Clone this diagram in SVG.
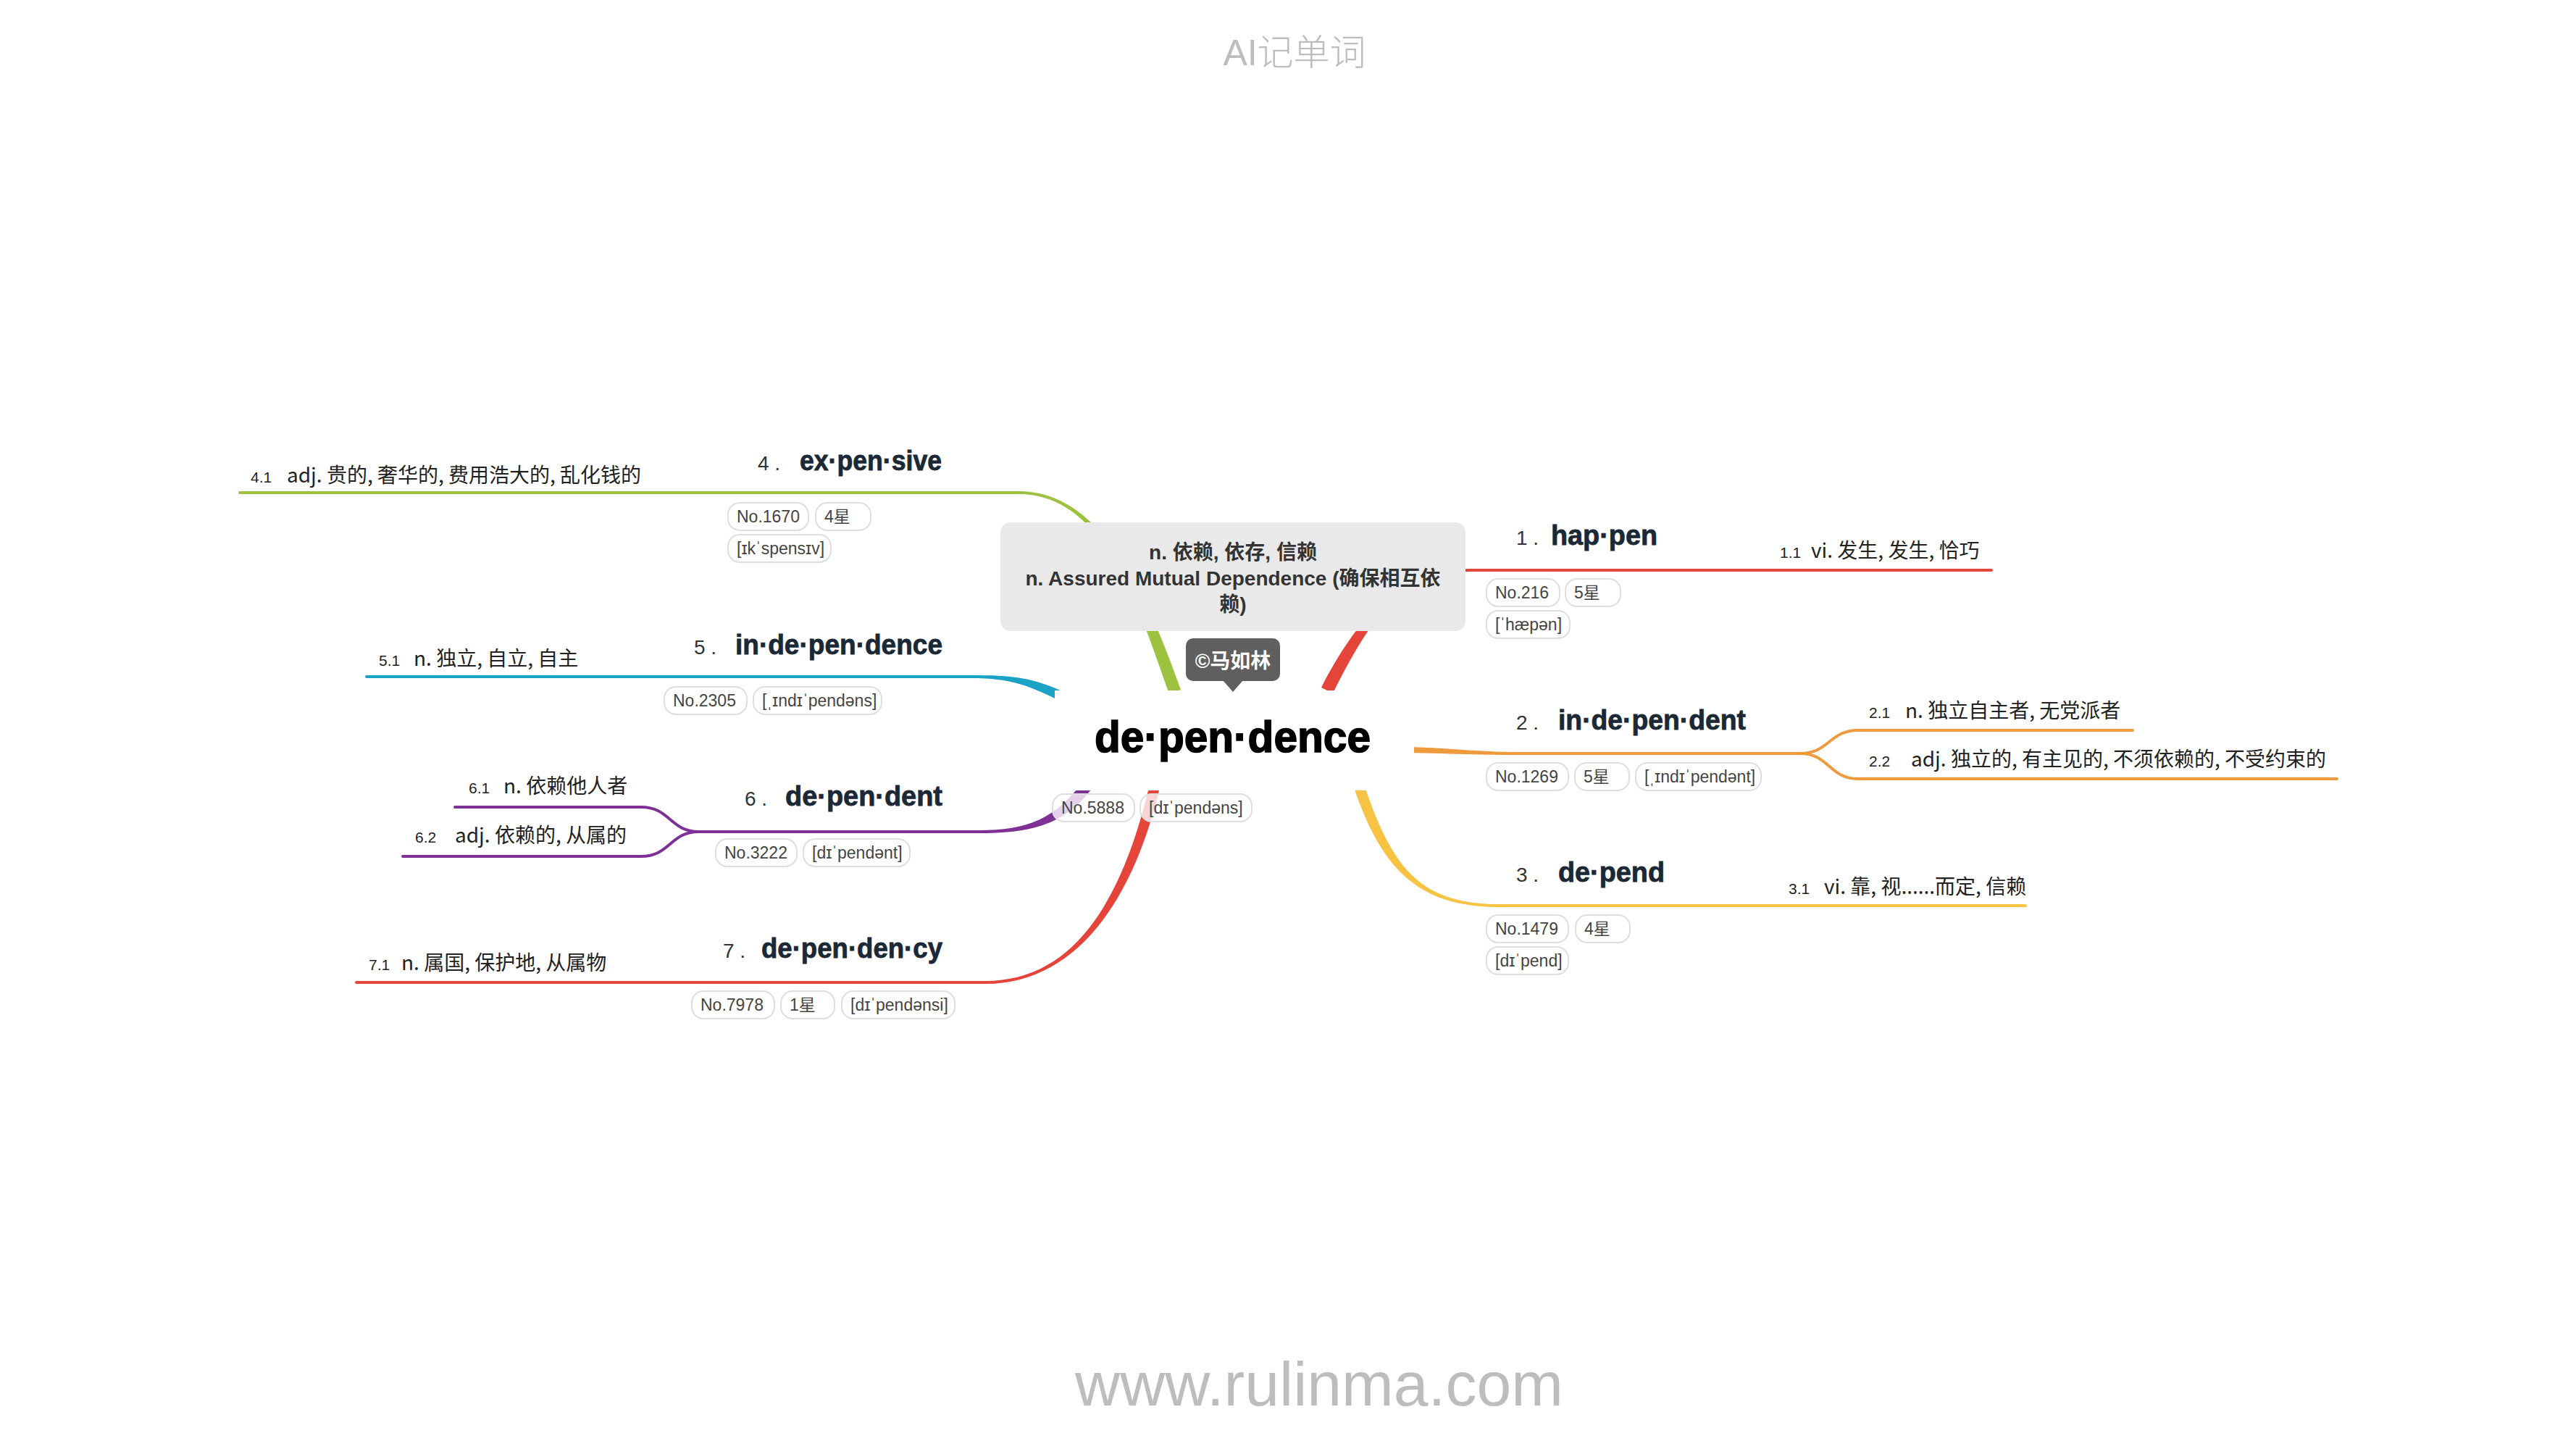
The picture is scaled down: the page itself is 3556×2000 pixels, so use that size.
<svg xmlns="http://www.w3.org/2000/svg" width="3556" height="2000" viewBox="0 0 3556 2000">
<style>
.bg{fill:#ffffff}
.title{font-family:"Liberation Sans","Noto Sans CJK SC",sans-serif;font-weight:bold;font-size:38px;fill:#1b2836;stroke:#1b2836;stroke-width:0.8}
.num{font-family:"Liberation Sans",sans-serif;font-size:28px;fill:#333}
.sub{font-family:"Noto Sans CJK SC",sans-serif;font-size:28px;fill:#222}
.subn{font-family:"Liberation Sans",sans-serif;font-size:21px;fill:#222}
.pill{fill:#ffffff;fill-opacity:0.78;stroke:#dedede;stroke-width:2}
.pt{font-family:"Liberation Sans","DejaVu Sans","Noto Sans CJK SC",sans-serif;font-size:23px;fill:#444}
.ln{fill:none;stroke-width:4;stroke-linecap:round}
.note{font-family:"Liberation Sans","Noto Sans CJK SC",sans-serif;font-weight:bold;font-size:28px;fill:#333;text-anchor:middle}
.wm{font-family:"Liberation Sans","Noto Sans CJK SC",sans-serif;fill:#bdbdbd;text-anchor:middle}
</style>
<rect class="bg" x="0" y="0" width="3556" height="2000"/>
<text class="wm" x="1787" y="90" font-size="50" font-weight="300" font-family="'Noto Sans CJK SC',sans-serif">AI记单词</text>
<text class="wm" x="1821" y="1940" font-size="86">www.rulinma.com</text>

<g id="connectors">
  <!-- 4 green -->
  <path fill="#9cc23f" d="M1630,952 C1582,817 1520,678 1406,678 L1406,682 C1520,682 1567,823 1614,958 Z"/>
  <path class="ln" stroke="#9cc23f" d="M1406,680 L331,680"/>
  <!-- 1 red -->
  <path fill="#e5443a" d="M1840,957 C1887,864 1930,789 2030,789 L2030,785 C1930,785 1872,856 1824,949 Z"/>
  <path class="ln" stroke="#e0483e" d="M2030,787 L2749,787"/>
  <!-- 5 cyan -->
  <path fill="#1ba3c6" d="M1478,960 C1428,934 1395,932 1340,932 L1340,936 C1395,936 1422,946 1472,972 Z"/>
  <path class="ln" stroke="#1ba3c6" d="M1340,934 L506,934"/>
  <!-- 6 purple -->
  <path fill="#7d3195" d="M1494,1080 C1456,1130 1420,1146 1350,1146 L1350,1150 C1420,1150 1468,1140 1506,1090 Z"/>
  <path class="ln" stroke="#7d3195" d="M1350,1148 L965,1148"/>
  <path class="ln" stroke="#7d3195" d="M965,1148 C925,1148 925,1114 885,1114 L628,1114"/>
  <path class="ln" stroke="#7d3195" d="M965,1148 C925,1148 925,1182 885,1182 L556,1182"/>
  <!-- 7 red -->
  <path fill="#e5443a" d="M1587,1083 C1548,1248 1480,1354 1360,1354 L1360,1358 C1480,1358 1562,1252 1601,1087 Z"/>
  <path class="ln" stroke="#e0483e" d="M1360,1356 L492,1356"/>
  <!-- 3 yellow -->
  <path fill="#f6c342" d="M1869,1087 C1908,1202 1960,1252 2070,1252 L2070,1248 C1960,1248 1922,1198 1883,1083 Z"/>
  <path class="ln" stroke="#f6c342" d="M2070,1250 L2796,1250"/>
  <!-- 2 orange -->
  <path fill="#f09a3e" d="M1940,1031 C2000,1032 2040,1038 2090,1038 L2090,1042 C2040,1042 2000,1040 1940,1039 Z"/>
  <path class="ln" stroke="#f09a3e" d="M2090,1040 L2485,1040"/>
  <path class="ln" stroke="#f09a3e" d="M2485,1040 C2525,1040 2525,1008 2565,1008 L2944,1008"/>
  <path class="ln" stroke="#f09a3e" d="M2485,1040 C2525,1040 2525,1075 2565,1075 L3226,1075"/>
</g>

<g id="center">
  <rect x="1456" y="953" width="496" height="138" fill="#ffffff"/>
  <text x="1511" y="1038" font-family="'Liberation Sans',sans-serif" font-weight="bold" font-size="62" fill="#000" stroke="#000" stroke-width="1.6" textLength="381" lengthAdjust="spacingAndGlyphs">de·pen·dence</text>
  <rect class="pill" x="1453" y="1096" width="113" height="38" rx="16"/>
  <text class="pt" x="1465" y="1123">No.5888</text>
  <rect class="pill" x="1574" y="1096" width="154" height="38" rx="16"/>
  <text class="pt" x="1586" y="1123">[dɪˈpendəns]</text>
</g>

<g id="note">
  <rect x="1381" y="721" width="642" height="150" rx="14" fill="#e9e9e9"/>
  <text class="note" x="1702" y="772">n. 依赖, 依存, 信赖</text>
  <text class="note" x="1702" y="808">n. Assured Mutual Dependence (确保相互依</text>
  <text class="note" x="1702" y="844">赖)</text>
</g>

<g id="callout">
  <rect x="1637" y="881" width="130" height="59" rx="10" fill="#5f5f5f"/>
  <path d="M1688,939 L1716,939 L1702,955 Z" fill="#5f5f5f"/>
  <text x="1702" y="922" text-anchor="middle" font-family="'Liberation Sans','Noto Sans CJK SC',sans-serif" font-weight="bold" font-size="28" fill="#ffffff">©马如林</text>
</g>

<g id="node-1">
  <text class="num" x="2093" y="752">1 .</text>
  <text class="title" x="2141" y="752" textLength="147" lengthAdjust="spacingAndGlyphs">hap·pen</text>
  <rect class="pill" x="2052" y="799" width="101" height="38" rx="16"/>
  <text class="pt" x="2064" y="826">No.216</text>
  <rect class="pill" x="2161" y="799" width="76" height="38" rx="16"/>
  <text class="pt" x="2173" y="826">5星</text>
  <rect class="pill" x="2052" y="843" width="115" height="38" rx="16"/>
  <text class="pt" x="2064" y="870">[ˈhæpən]</text>
</g>
<g id="node-1-1">
  <text class="subn" x="2457" y="770">1.1</text>
  <text class="sub" x="2500" y="770">vi. 发生, 发生, 恰巧</text>
</g>

<g id="node-2">
  <text class="num" x="2093" y="1007">2 .</text>
  <text class="title" x="2151" y="1007" textLength="259" lengthAdjust="spacingAndGlyphs">in·de·pen·dent</text>
  <rect class="pill" x="2052" y="1053" width="113" height="38" rx="16"/>
  <text class="pt" x="2064" y="1080">No.1269</text>
  <rect class="pill" x="2174" y="1053" width="75" height="38" rx="16"/>
  <text class="pt" x="2186" y="1080">5星</text>
  <rect class="pill" x="2258" y="1053" width="173" height="38" rx="16"/>
  <text class="pt" x="2270" y="1080">[ˌɪndɪˈpendənt]</text>
</g>
<g id="node-2-1">
  <text class="subn" x="2580" y="991">2.1</text>
  <text class="sub" x="2630" y="991">n. 独立自主者, 无党派者</text>
</g>
<g id="node-2-2">
  <text class="subn" x="2580" y="1058">2.2</text>
  <text class="sub" x="2638" y="1058">adj. 独立的, 有主见的, 不须依赖的, 不受约束的</text>
</g>

<g id="node-3">
  <text class="num" x="2093" y="1217">3 .</text>
  <text class="title" x="2151" y="1217" textLength="147" lengthAdjust="spacingAndGlyphs">de·pend</text>
  <rect class="pill" x="2052" y="1263" width="113" height="38" rx="16"/>
  <text class="pt" x="2064" y="1290">No.1479</text>
  <rect class="pill" x="2175" y="1263" width="75" height="38" rx="16"/>
  <text class="pt" x="2187" y="1290">4星</text>
  <rect class="pill" x="2052" y="1307" width="113" height="38" rx="16"/>
  <text class="pt" x="2064" y="1334">[dɪˈpend]</text>
</g>
<g id="node-3-1">
  <text class="subn" x="2469" y="1234">3.1</text>
  <text class="sub" x="2518" y="1234">vi. 靠, 视......而定, 信赖</text>
</g>

<g id="node-4">
  <text class="num" x="1046" y="649">4 .</text>
  <text class="title" x="1104" y="649" textLength="196" lengthAdjust="spacingAndGlyphs">ex·pen·sive</text>
  <rect class="pill" x="1005" y="694" width="111" height="38" rx="16"/>
  <text class="pt" x="1017" y="721">No.1670</text>
  <rect class="pill" x="1126" y="694" width="76" height="38" rx="16"/>
  <text class="pt" x="1138" y="721">4星</text>
  <rect class="pill" x="1005" y="738" width="142" height="38" rx="16"/>
  <text class="pt" x="1017" y="765">[ɪkˈspensɪv]</text>
</g>
<g id="node-4-1">
  <text class="subn" x="346" y="666">4.1</text>
  <text class="sub" x="396" y="666">adj. 贵的, 奢华的, 费用浩大的, 乱化钱的</text>
</g>

<g id="node-5">
  <text class="num" x="958" y="903">5 .</text>
  <text class="title" x="1015" y="903" textLength="286" lengthAdjust="spacingAndGlyphs">in·de·pen·dence</text>
  <rect class="pill" x="917" y="948" width="114" height="38" rx="16"/>
  <text class="pt" x="929" y="975">No.2305</text>
  <rect class="pill" x="1040" y="948" width="177" height="38" rx="16"/>
  <text class="pt" x="1052" y="975">[ˌɪndɪˈpendəns]</text>
</g>
<g id="node-5-1">
  <text class="subn" x="523" y="919">5.1</text>
  <text class="sub" x="571" y="919">n. 独立, 自立, 自主</text>
</g>

<g id="node-6">
  <text class="num" x="1028" y="1112">6 .</text>
  <text class="title" x="1084" y="1112" textLength="217" lengthAdjust="spacingAndGlyphs">de·pen·dent</text>
  <rect class="pill" x="988" y="1158" width="112" height="38" rx="16"/>
  <text class="pt" x="1000" y="1185">No.3222</text>
  <rect class="pill" x="1109" y="1158" width="147" height="38" rx="16"/>
  <text class="pt" x="1121" y="1185">[dɪˈpendənt]</text>
</g>
<g id="node-6-1">
  <text class="subn" x="647" y="1095">6.1</text>
  <text class="sub" x="695" y="1095">n. 依赖他人者</text>
</g>
<g id="node-6-2">
  <text class="subn" x="573" y="1163">6.2</text>
  <text class="sub" x="628" y="1163">adj. 依赖的, 从属的</text>
</g>

<g id="node-7">
  <text class="num" x="998" y="1322">7 .</text>
  <text class="title" x="1051" y="1322" textLength="250" lengthAdjust="spacingAndGlyphs">de·pen·den·cy</text>
  <rect class="pill" x="955" y="1368" width="114" height="38" rx="16"/>
  <text class="pt" x="967" y="1395">No.7978</text>
  <rect class="pill" x="1078" y="1368" width="74" height="38" rx="16"/>
  <text class="pt" x="1090" y="1395">1星</text>
  <rect class="pill" x="1162" y="1368" width="156" height="38" rx="16"/>
  <text class="pt" x="1174" y="1395">[dɪˈpendənsi]</text>
</g>
<g id="node-7-1">
  <text class="subn" x="509" y="1339">7.1</text>
  <text class="sub" x="554" y="1339">n. 属国, 保护地, 从属物</text>
</g>
</svg>
